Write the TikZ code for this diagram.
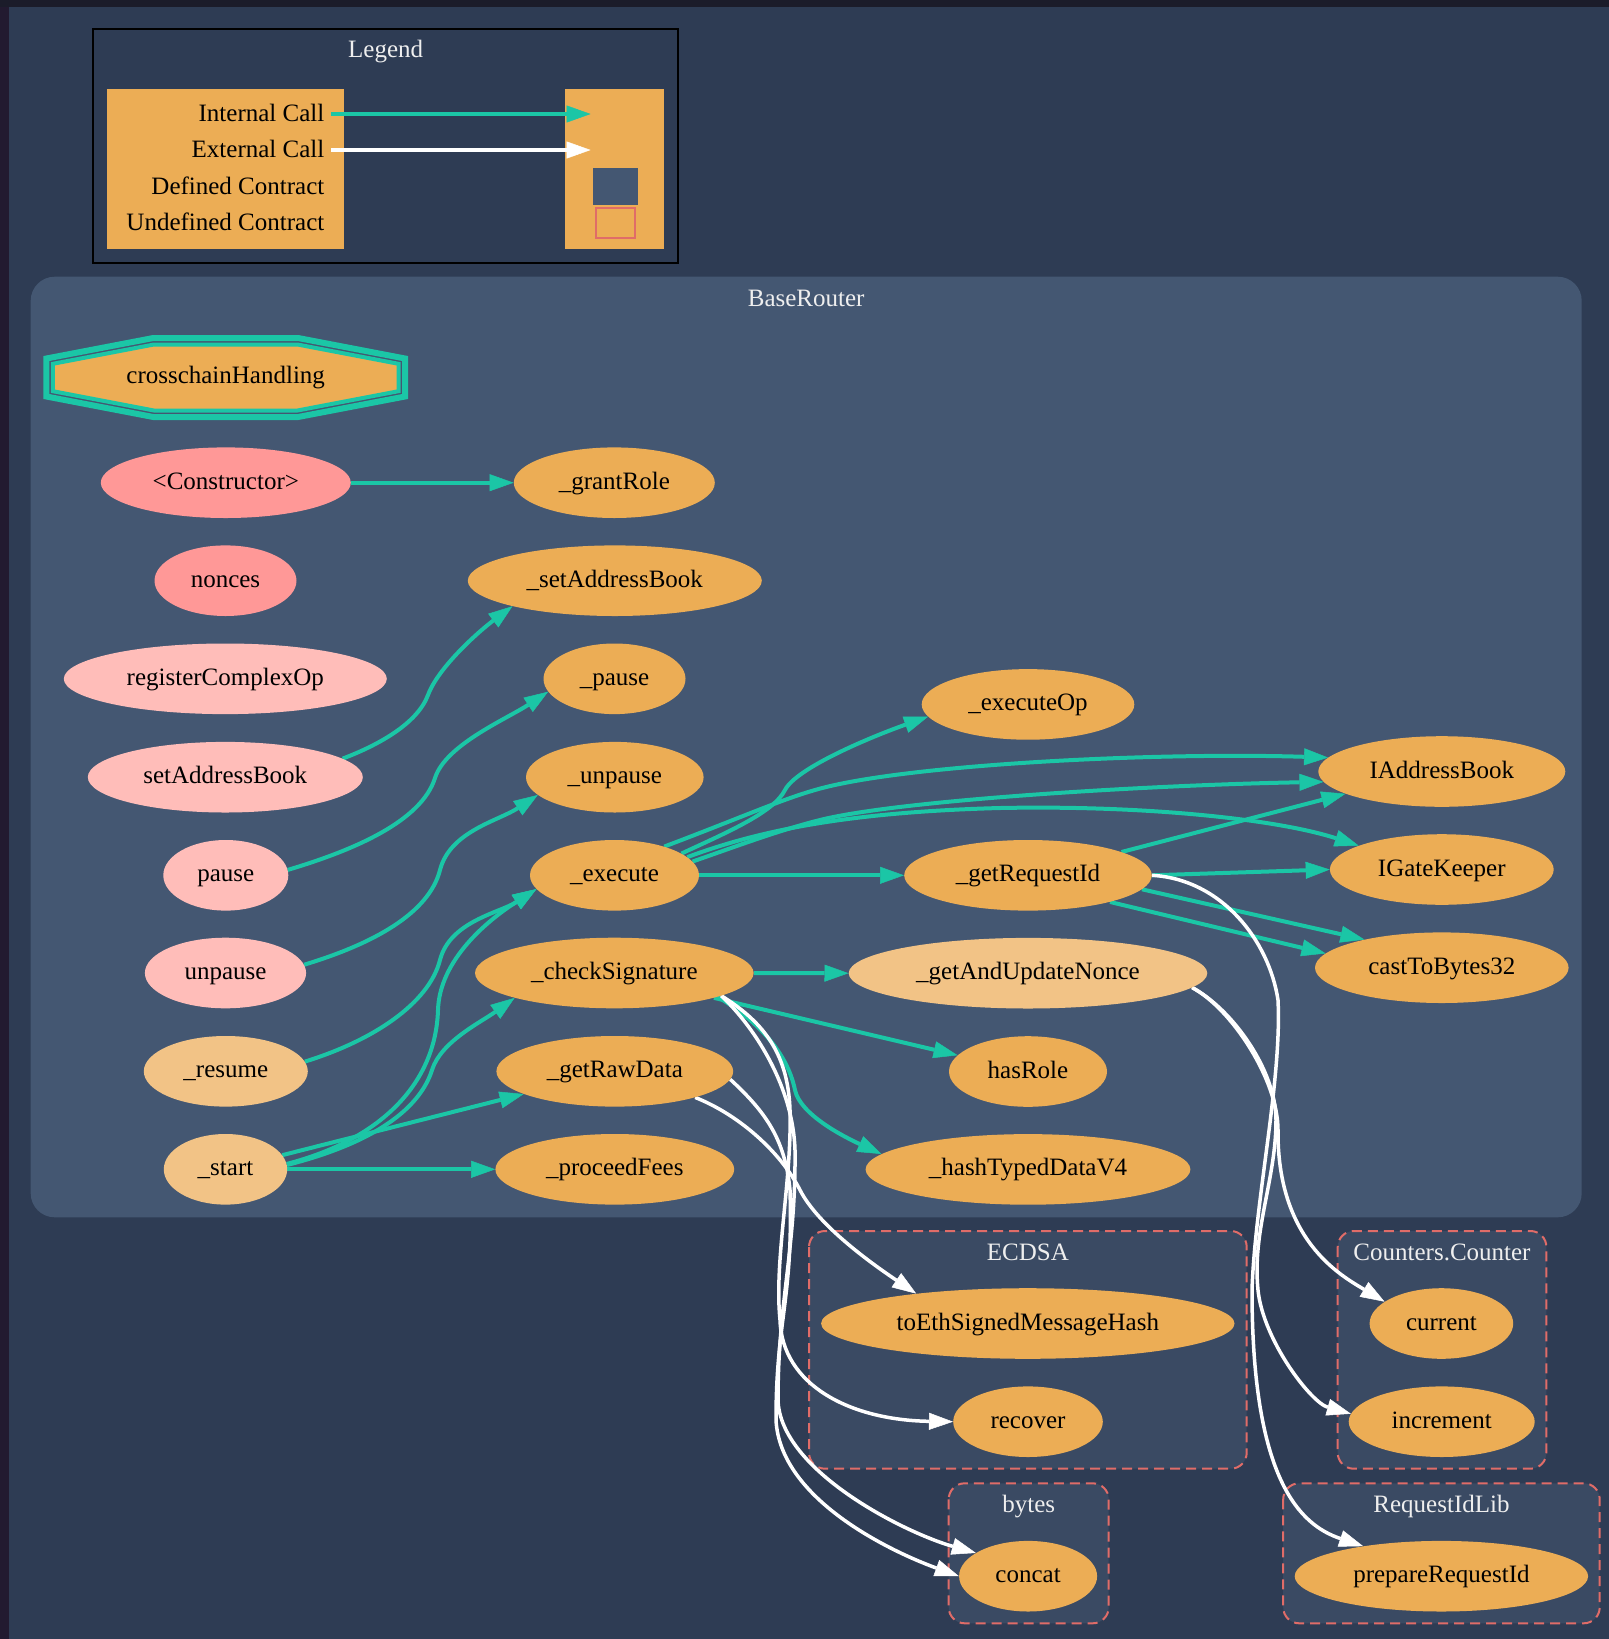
\documentclass[tikz,border=0pt]{standalone}
\usepackage{fontspec}
\setmainfont{Liberation Serif}
\usetikzlibrary{shapes.geometric,arrows.meta}

\definecolor{pageBg}{HTML}{2E3C54}
\definecolor{topBand}{HTML}{1B1C2A}
\definecolor{leftBand}{HTML}{221A30}
\definecolor{clusterMain}{HTML}{445772}
\definecolor{clusterLib}{HTML}{3A4A63}
\definecolor{libBorder}{HTML}{E06C68}
\definecolor{fnOrange}{HTML}{ECAD55}
\definecolor{fnLight}{HTML}{F2C386}
\definecolor{fnPink}{HTML}{FF9897}
\definecolor{fnRose}{HTML}{FFBDB9}
\definecolor{callTeal}{HTML}{1BC6A6}
\definecolor{labelGrey}{HTML}{EEEEEE}

\pgfdeclarelayer{backdrop}
\pgfdeclarelayer{edgelayer}
\pgfsetlayers{backdrop,edgelayer,main}

\tikzset{
  fnbase/.style={ellipse, inner sep=0pt, minimum height=70.6pt,
    font=\fontsize{25}{30}\selectfont, text height=18pt, text depth=5pt, text=black},
  fnA/.style={fnbase, fill=fnOrange},
  fnB/.style={fnbase, fill=fnLight},
  fnC/.style={fnbase, fill=fnPink},
  fnD/.style={fnbase, fill=fnRose},
  tipshape/.style={-{Triangle[length=24pt,width=17pt,line width=0.5pt]}},
  ic/.style={draw=callTeal, line width=4pt, tipshape},
  ec/.style={draw=white, line width=3.5pt, tipshape},
  cllabel/.style={font=\fontsize{25}{30}\selectfont, text height=18pt, text depth=5pt,
    inner sep=0pt, text=labelGrey},
  lgtext/.style={font=\fontsize{25}{30}\selectfont, text height=18pt, text depth=5pt,
    inner sep=0pt, text=black, anchor=east},
  libbox/.style={draw=libBorder, fill=clusterLib, line width=2pt,
    dash pattern=on 10pt off 6pt, rounded corners=16pt},
}

\begin{document}
\begin{tikzpicture}[x=1pt,y=-1pt]
\useasboundingbox (0,0) rectangle (1609,1639);

\begin{pgfonlayer}{backdrop}
  % page
  \fill[pageBg] (0,0) rectangle (1609,1639);
  \fill[leftBand] (0,0) rectangle (9,1639);
  \fill[topBand] (0,0) rectangle (1609,7);

  % legend frame and tables
  \draw[line width=2pt, draw=black, fill=pageBg] (93.3,29) rectangle (678,262.5);
  \fill[fnOrange] (107,89) rectangle (343.8,248.7);
  \fill[fnOrange] (565,89) rectangle (664,248.7);
  \fill[clusterMain] (592.9,168) rectangle (638.4,204.7);
  \draw[libBorder, line width=2pt] (596,208.3) rectangle (635,238);

  % contract cluster
  \fill[clusterMain, rounded corners=24pt] (30.7,276.7) rectangle (1581.7,1217.3);

  % library clusters
  \draw[libbox] (809,1231) rectangle (1246.7,1468.7);
  \draw[libbox] (1337.7,1231) rectangle (1546.4,1468.7);
  \draw[libbox] (948.7,1483.3) rectangle (1108.7,1623.3);
  \draw[libbox] (1283.2,1483.3) rectangle (1599.7,1623.3);

  % double octagon of the fallback handler
  \begin{scope}[shift={(225.7,377.5)}]
    \draw[callTeal, line width=6pt] (-72.4,-39.5) -- (72.4,-39.5) -- (179.3,-19) -- (179.3,19)
      -- (72.4,39.5) -- (-72.4,39.5) -- (-179.3,19) -- (-179.3,-19) -- cycle;
    \draw[callTeal, fill=fnOrange, line width=4pt] (-71.8,-33) -- (71.8,-33) -- (172.8,-13.7)
      -- (172.8,13.7) -- (71.8,33) -- (-71.8,33) -- (-172.8,13.7) -- (-172.8,-13.7) -- cycle;
  \end{scope}
\end{pgfonlayer}

% titles
\node[cllabel] (lgTitle) at (385.7,50.8) {Legend};
\node[cllabel] (brTitle) at (806.2,299.5) {BaseRouter};
\node[cllabel] (ecdsaTitle) at (1027.9,1253.5) {ECDSA};
\node[cllabel] (counterTitle) at (1442,1253.5) {Counters.Counter};
\node[cllabel] (bytesTitle) at (1028.7,1505.8) {bytes};
\node[cllabel] (reqLibTitle) at (1441.5,1505.8) {RequestIdLib};

% legend entries
\node[lgtext] (lgInt) at (324.5,115.2) {Internal Call};
\node[lgtext] (lgExt) at (324.5,151.2) {External Call};
\node[lgtext] (lgDef) at (324.5,187.8) {Defined Contract};
\node[lgtext] (lgUnd) at (324.5,223.5) {Undefined Contract};
\coordinate (lgIntA) at (331,114);
\coordinate (lgIntB) at (590.6,114);
\coordinate (lgExtA) at (331,150);
\coordinate (lgExtB) at (590.6,150);

% functions
\node[fnbase] (ch) at (225.7,377) {crosschainHandling};
\node[fnC, minimum width=250pt] (ctor) at (225.8,482.7) {<Constructor>};
\node[fnA, minimum width=201pt] (grantRole) at (614.3,482.7) {\_grantRole};
\node[fnC, minimum width=142pt] (nonces) at (225.5,580.7) {nonces};
\node[fnA, minimum width=294pt] (setABi) at (614.8,580.7) {\_setAddressBook};
\node[fnD, minimum width=323pt] (regCO) at (225.3,678.8) {registerComplexOp};
\node[fnA, minimum width=142pt] (pausei) at (614.5,678.8) {\_pause};
\node[fnD, minimum width=275pt] (setAB) at (225.3,777.2) {setAddressBook};
\node[fnA, minimum width=177.6pt] (unpausei) at (614.8,777.2) {\_unpause};
\node[fnD, minimum width=125pt] (pause) at (225.8,875.3) {pause};
\node[fnA, minimum width=169pt] (execute) at (614.5,875.3) {\_execute};
\node[fnD, minimum width=161.2pt] (unpause) at (225.5,973) {unpause};
\node[fnA, minimum width=278.6pt] (checkSig) at (614.3,973) {\_checkSignature};
\node[fnB, minimum width=164pt] (resume) at (225.8,1071.3) {\_resume};
\node[fnA, minimum width=236.8pt] (rawData) at (614.8,1071.3) {\_getRawData};
\node[fnB, minimum width=123.4pt] (start) at (225.5,1169.3) {\_start};
\node[fnA, minimum width=238.8pt] (fees) at (614.8,1169.3) {\_proceedFees};
\node[fnA, minimum width=212.6pt] (executeOp) at (1028,704.4) {\_executeOp};
\node[fnA, minimum width=247.6pt] (getReqId) at (1028,875.3) {\_getRequestId};
\node[fnB, minimum width=358.6pt] (nonce) at (1028,973.2) {\_getAndUpdateNonce};
\node[fnA, minimum width=158pt] (hasRole) at (1028,1071.5) {hasRole};
\node[fnA, minimum width=324.8pt] (hashTD) at (1028,1169.4) {\_hashTypedDataV4};
\node[fnA, minimum width=247pt] (iab) at (1441.8,771.5) {IAddressBook};
\node[fnA, minimum width=223.8pt] (igk) at (1441.8,869.5) {IGateKeeper};
\node[fnA, minimum width=253.6pt] (cast) at (1441.8,967.7) {castToBytes32};
\node[fnA, minimum width=413.4pt] (toEth) at (1027.8,1323.5) {toEthSignedMessageHash};
\node[fnA, minimum width=149.6pt] (recover) at (1028,1421.7) {recover};
\node[fnA, minimum width=143.6pt] (current) at (1441.4,1323.5) {current};
\node[fnA, minimum width=186pt] (increment) at (1441.7,1421.7) {increment};
\node[fnA, minimum width=138pt] (concat) at (1028.1,1576.2) {concat};
\node[fnA, minimum width=293.4pt] (prepReq) at (1441.4,1576.2) {prepareRequestId};

\begin{pgfonlayer}{edgelayer}
  % legend samples
  \draw[ic] (lgIntA) -- (lgIntB);
  \draw[ec] (lgExtA) -- (lgExtB);

  % internal calls
  \draw[ic] (ctor.east) -- (grantRole.west);
  \draw[ic] (setAB.9) .. controls (379.4,744.7) and (417.5,723.2) .. (428,695)
            .. controls (438.5,666.8) and (479.7,630.7) .. (setABi.194);
  \draw[ic] (pause.5) .. controls (355.5,849.7) and (421.5,820.8) .. (435,778)
            .. controls (445.5,744.8) and (506.6,719) .. (pausei.191);
  \draw[ic] (unpause.6) .. controls (372.6,944) and (428.8,913.7) .. (440,870)
            .. controls (450,831.2) and (498.8,820.7) .. (unpausei.193);
  \draw[ic] (resume.7) .. controls (372.6,1040.7) and (428.8,1003.7) .. (440,960)
            .. controls (450,921.2) and (500,912.7) .. (execute.190);
  \draw[ic] (start.5) .. controls (385.3,1138.3) and (435.9,1080) .. (438,1010)
            .. controls (439.5,960) and (487.3,920.5) .. (execute.190);
  \draw[ic] (start.4) .. controls (375.6,1142.5) and (420,1108) .. (432,1070)
            .. controls (441,1041.5) and (480.8,1022.3) .. (checkSig.194);
  \draw[ic] (start.14) -- (rawData.194);
  \draw[ic] (start.east) -- (fees.west);

  \draw[ic] (execute.18) .. controls (728.3,831.8) and (773.8,812.3) .. (785,790)
            .. controls (796.3,767.8) and (871.9,736.5) .. (executeOp.187);
  \draw[ic] (execute.30) .. controls (740,818) and (780,800) .. (815,790)
            .. controls (900,765) and (1150,752) .. (iab.173);
  \draw[ic] (execute.10) .. controls (740,845) and (780,830) .. (820,820)
            .. controls (900,800) and (1150,785) .. (iab.185);
  \draw[ic] (execute.14) .. controls (760,830) and (850,812) .. (1000,808)
            .. controls (1150,805) and (1280,820) .. (igk.164);
  \draw[ic] (execute.east) -- (getReqId.west);

  \draw[ic] (getReqId.14) -- (iab.193);
  \draw[ic] (getReqId.east) -- (igk.west);
  \draw[ic] (getReqId.353) -- (cast.160);
  \draw[ic] (getReqId.342) -- (cast.173);

  \draw[ic] (checkSig.east) -- (nonce.west);
  \draw[ic] (checkSig.346) -- (hasRole.167);
  \draw[ic] (checkSig.347) .. controls (755,1019) and (787,1050.8) .. (795,1090)
            .. controls (800,1114.5) and (844.4,1137) .. (hashTD.174);

  % external calls
  \draw[ec] (nonce.355) .. controls (1232,1009) and (1278,1080) .. (1278,1130)
            .. controls (1277,1240) and (1340,1275) .. (current.159);
  \draw[ec] (nonce.355) .. controls (1232,1009) and (1276,1070) .. (1276,1120)
            .. controls (1276,1180) and (1252,1230) .. (1258,1290)
            .. controls (1263,1340) and (1310.9,1402.5) .. (increment.175);
  \draw[ec] (getReqId.east) .. controls (1221.8,879.3) and (1269,940.6) .. (1278,1000)
            .. controls (1282,1080) and (1255,1200) .. (1252,1290)
            .. controls (1252,1480) and (1300,1525) .. (prepReq.159);
  \draw[ec] (checkSig.348) .. controls (760,1020) and (788,1050) .. (790,1110)
            .. controls (792,1180) and (774,1260) .. (780,1320)
            .. controls (782,1385) and (850,1420) .. (recover.west);
  \draw[ec] (checkSig.348) .. controls (758.3,1031) and (793.2,1090) .. (795,1150)
            .. controls (796,1250) and (778,1300) .. (778,1400)
            .. controls (780,1470) and (903.5,1532.3) .. (concat.156);
  \draw[ec] (rawData.342) .. controls (741.5,1115.8) and (782,1154.4) .. (800,1190)
            .. controls (818,1225.6) and (872.8,1264.3) .. (toEth.165);
  \draw[ec] (rawData.356) .. controls (766.8,1113) and (785,1140) .. (790,1190)
            .. controls (793.3,1300) and (776,1320) .. (776,1420)
            .. controls (780,1500) and (893.3,1552.4) .. (concat.west);
\end{pgfonlayer}
\end{tikzpicture}
\end{document}
